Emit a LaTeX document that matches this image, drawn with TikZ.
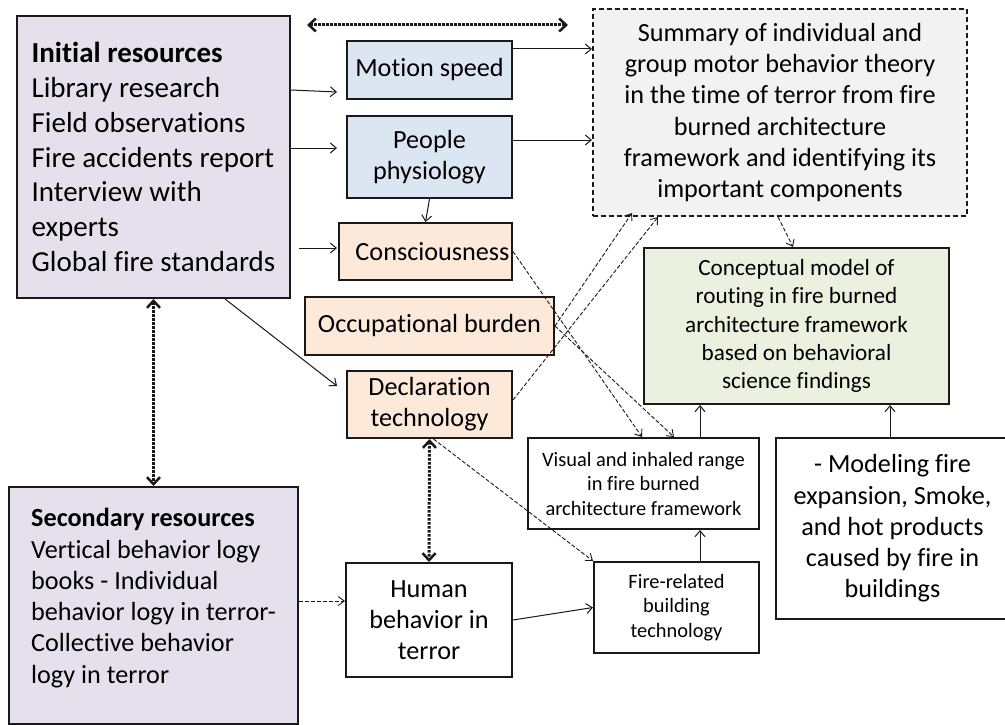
\documentclass[tikz,border=0pt]{standalone}
\usepackage{fontspec}
\setmainfont{Carlito}[Ligatures=NoCommon]
\usetikzlibrary{arrows.meta,calc}

\definecolor{lav}{RGB}{229,224,236}
\definecolor{skyb}{RGB}{220,230,242}
\definecolor{peach}{RGB}{253,233,217}
\definecolor{pale}{RGB}{242,242,242}
\definecolor{sage}{RGB}{235,241,222}
\definecolor{ink}{RGB}{25,25,25}

\tikzset{
  box/.style={draw=ink, line width=2pt, inner sep=0pt, anchor=north west, align=center},
  fbig/.style={font=\fontsize{29}{34.7}\selectfont},
  fmid/.style={font=\fontsize{26.2}{31.3}\selectfont},
  fsml/.style={font=\fontsize{23.2}{28.3}\selectfont},
  ftiny/.style={font=\fontsize{20.4}{24.5}\selectfont},
  conn/.style={draw=ink, line width=1pt, -{Straight Barb[length=6pt,width=10pt]}},
  dconn/.style={draw=ink, line width=0.9pt, dash pattern=on 4pt off 2pt,
    -{Straight Barb[length=6pt,width=9pt]}},
  dotlink/.style={draw=ink, line width=3pt, dash pattern=on 2.5pt off 1.5pt,
    {Straight Barb[length=7pt,width=13pt,line width=2.5pt]}-{Straight Barb[length=7pt,width=13pt,line width=2.5pt]}}
}

\begin{document}
\begin{tikzpicture}[x=1pt,y=-1pt]
\useasboundingbox (0,0) rectangle (1005,725);

% resource boxes
\node[box, fbig, fill=lav, align=left, minimum width=273, minimum height=282] (init) at (16,15)
  {\textbf{Initial resources}\\Library research\\Field observations\\Fire accidents report\\Interview with\\experts\\Global fire standards};
\node[box, fmid, fill=lav, align=left, minimum width=289, minimum height=237] (second) at (8,486)
  {\textbf{Secondary resources}\\Vertical behavior logy\\books - Individual\\behavior logy in terror-\\Collective behavior\\logy in terror\\[-12pt]};

% factor boxes
\node[box, fmid, fill=skyb, minimum width=165, minimum height=58] (motion) at (346,40) {Motion speed};
\node[box, fmid, fill=skyb, minimum width=165, minimum height=82] (physio) at (346,115) {People\\physiology};
\node[box, fmid, fill=peach, minimum width=173, minimum height=57] (consc) at (338,222) {\hspace*{14pt}Consciousness};
\node[box, fmid, fill=peach, minimum width=249, minimum height=58] (occup) at (304,296) {Occupational burden};
\node[box, fmid, fill=peach, minimum width=165, minimum height=67] (decl) at (346,370) {Declaration\\technology};

% theory and model boxes
\node[box, fmid, fill=pale, dash pattern=on 5pt off 3pt, minimum width=374, minimum height=207] (summary) at (592,8)
  {Summary of individual and\\group motor behavior theory\\in the time of terror from fire\\burned architecture\\framework and identifying its\\important components};
\node[box, fsml, fill=sage, minimum width=305, minimum height=156] (concept) at (643,247)
  {Conceptual model of\\routing in fire burned\\architecture framework\\based on behavioral\\science findings};
\node[box, ftiny, fill=white, minimum width=231, minimum height=91] (visual) at (527,437)
  {Visual and inhaled range\\in fire burned\\architecture framework};
\node[box, fmid, fill=white, minimum width=233, minimum height=181] (modeling) at (775,437)
  {- Modeling fire\\expansion, Smoke,\\and hot products\\caused by fire in\\buildings};
\node[box, fmid, fill=white, minimum width=166, minimum height=114] (human) at (345,562)
  {Human\\behavior in\\terror};
\node[box, ftiny, fill=white, minimum width=165, minimum height=91] (firerel) at (593,561)
  {Fire-related\\building\\technology};

% solid links
\draw[conn] ($(init.north east)+(0,75)$) -- ($(motion.south west)+(-9,-8)$);
\draw[conn] ($(init.north east)+(0,133)$) -- ($(physio.north west)+(-9,33)$);
\draw[conn] ($(init.north east)+(8,233)$) -- ($(consc.north west)+(-1,26)$);
\draw[conn] ($(init.south west)+(209,0)$) -- ($(decl.north west)+(-9,16)$);
\draw[conn] ($(motion.north east)+(0,9)$) -- ($(summary.north west)+(0,41)$);
\draw[conn] ($(physio.north east)+(0,25)$) -- ($(summary.north west)+(0,132)$);
\draw[conn] (physio.south) -- (consc.north);
\draw[conn] ($(visual.north west)+(173,0)$) coordinate (vup) -- (vup |- concept.south);
\draw[conn] ($(modeling.north west)+(115,0)$) coordinate (mup) -- (mup |- concept.south);
\draw[conn] ($(firerel.north west)+(107,0)$) coordinate (fup) -- (fup |- visual.south);
\draw[conn] (human.east) -- (firerel.west);

% dashed links
\draw[dconn] (consc.east) -- ($(visual.north west)+(115,0)$);
\draw[dconn] (occup.east) -- ($(visual.north west)+(147,0)$);
\draw[dconn] (occup.east) -- ($(summary.south west)+(40,-4)$);
\draw[dconn] ($(decl.north east)+(0,30)$) -- ($(summary.south west)+(66,0)$);
\draw[dconn] ($(summary.south west)+(186,0)$) -- ($(concept.north west)+(150,0)$);
\draw[dconn] ($(decl.south)+(4,0)$) -- (firerel.north west);
\draw[dconn] ($(second.north east)+(0,115)$) -- ($(human.north west)+(0,39)$);

% two-way dotted links
\coordinate (topl) at (307,25);
\coordinate (topr) at (568,25);
\draw[dotlink] (topl) -- (topr);
\draw[dotlink] (init.south) -- (second.north);
\draw[dotlink] (decl.south) -- (human.north);
\end{tikzpicture}
\end{document}
